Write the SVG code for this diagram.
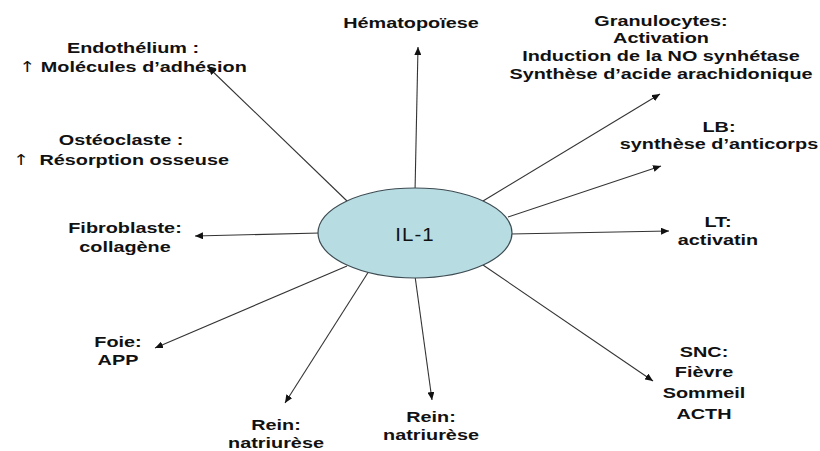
<svg xmlns="http://www.w3.org/2000/svg" width="820" height="451" viewBox="0 0 820 451">
<style>
.t{font-family:"Liberation Sans",Arial,sans-serif;font-size:15.5px;font-weight:bold;fill:#111;text-anchor:middle}
.up{font-family:"DejaVu Sans",sans-serif;font-weight:normal;font-size:15px}
.c{stroke:#333;stroke-width:1.1;fill:none;marker-end:url(#ah)}
</style>
<defs>
<marker id="ah" markerUnits="userSpaceOnUse" markerWidth="9" markerHeight="7" refX="8" refY="3.5" orient="auto">
<path d="M0,0 L8,3.5 L0,7 z" fill="#111"/>
</marker>
</defs>
<rect width="820" height="451" fill="#fff"/>
<g id="connectors">
<line class="c" x1="415" y1="192" x2="418" y2="47"/>
<line class="c" x1="347" y1="201" x2="208" y2="67"/>
<line class="c" x1="320" y1="233" x2="195" y2="236"/>
<line class="c" x1="347" y1="266" x2="155" y2="348"/>
<line class="c" x1="369" y1="271" x2="285" y2="403"/>
<line class="c" x1="415" y1="276" x2="432" y2="400"/>
<line class="c" x1="483" y1="265" x2="653" y2="381"/>
<line class="c" x1="510" y1="234" x2="669" y2="231"/>
<line class="c" x1="508" y1="217" x2="661" y2="166"/>
<line class="c" x1="483" y1="201" x2="660" y2="94"/>
</g>
<g id="il1">
<ellipse cx="415" cy="233" rx="97" ry="45" fill="#b7dde3" stroke="#3d4b52" stroke-width="1.2"/>
<text x="0" y="241" transform="translate(415,0) scale(1.08,1)" style="font-family:'Liberation Sans',Arial,sans-serif;font-size:19px;fill:#111;text-anchor:middle;letter-spacing:1px">IL-1</text>
</g>
<g id="hemato" transform="translate(411,0) scale(1.28,1)">
<text class="t" x="0" y="28">Hématopoïese</text>
</g>
<g id="granulocytes" transform="translate(661,0) scale(1.28,1)">
<text class="t" x="0" y="26">Granulocytes:</text>
<text class="t" x="0" y="43.5">Activation</text>
<text class="t" x="0" y="61">Induction de la NO synhétase</text>
<text class="t" x="0" y="79">Synthèse d’acide arachidonique</text>
</g>
<g id="endothelium" transform="translate(133,0) scale(1.28,1)">
<text class="t" x="0" y="53">Endothélium :</text>
<text class="t" x="0" y="72"><tspan class="up">↑</tspan> Molécules d’adhésion</text>
</g>
<g id="osteoclaste" transform="translate(121,0) scale(1.28,1)">
<text class="t" x="0" y="145">Ostéoclaste :</text>
<text class="t" x="0" y="165"><tspan class="up">↑</tspan><tspan dx="8">Résorption osseuse</tspan></text>
</g>
<g id="lb" transform="translate(719,0) scale(1.28,1)">
<text class="t" x="0" y="132">LB:</text>
<text class="t" x="0" y="149">synthèse d’anticorps</text>
</g>
<g id="lt" transform="translate(718,0) scale(1.28,1)">
<text class="t" x="0" y="227">LT:</text>
<text class="t" x="0" y="245">activatin</text>
</g>
<g id="fibroblaste" transform="translate(125,0) scale(1.28,1)">
<text class="t" x="0" y="233">Fibroblaste:</text>
<text class="t" x="0" y="252">collagène</text>
</g>
<g id="foie" transform="translate(118,0) scale(1.28,1)">
<text class="t" x="0" y="347">Foie:</text>
<text class="t" x="0" y="365">APP</text>
</g>
<g id="rein1" transform="translate(276,0) scale(1.28,1)">
<text class="t" x="0" y="430">Rein:</text>
<text class="t" x="0" y="448">natriurèse</text>
</g>
<g id="rein2" transform="translate(431,0) scale(1.28,1)">
<text class="t" x="0" y="422">Rein:</text>
<text class="t" x="0" y="440">natriurèse</text>
</g>
<g id="snc" transform="translate(704,0) scale(1.28,1)">
<text class="t" x="0" y="357">SNC:</text>
<text class="t" x="0" y="377">Fièvre</text>
<text class="t" x="0" y="398">Sommeil</text>
<text class="t" x="0" y="419">ACTH</text>
</g>
</svg>
